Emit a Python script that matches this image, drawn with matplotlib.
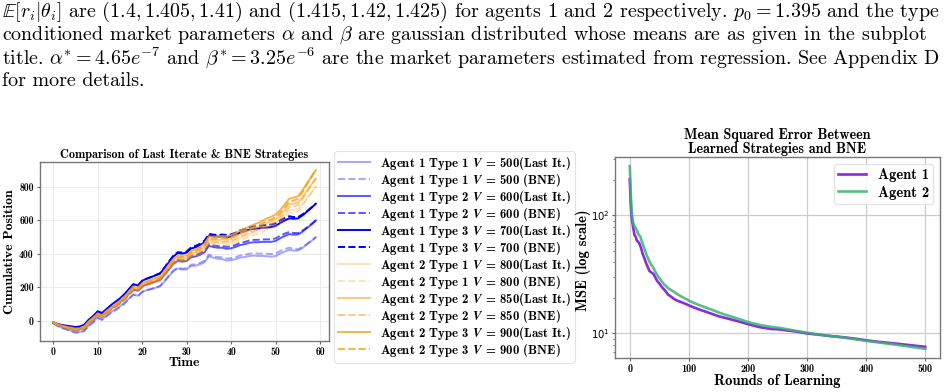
import matplotlib
matplotlib.use("Agg")
import matplotlib.pyplot as plt

plt.rcParams['mathtext.fontset'] = 'cm'
plt.rcParams['axes.unicode_minus'] = False

# ---- data: cumulative position over time (left panel) ----
time = list(range(60))

a1_t1_last = [-12, -28, -40, -48, -58, -66, -65, -56, -26, -5, 22, 10, 32, 53, 69, 87, 108, 134, 160, 150,
              174, 184, 190, 198, 206, 235, 266, 297, 313, 306, 308, 328, 330, 338, 350, 386, 377, 371, 369, 360,
              363, 369, 378, 381, 387, 390, 388, 388, 386, 384, 388, 403, 414, 424, 420, 420, 436, 456, 477, 500]
a1_t1_bne = [-12, -30, -43, -52, -62, -71, -70, -61, -31, -10, 17, 5, 27, 48, 64, 82, 103, 129, 155, 147,
             172, 184, 190, 200, 209, 239, 271, 302, 319, 312, 315, 336, 338, 347, 360, 396, 387, 381, 380, 372,
             375, 381, 391, 394, 401, 404, 402, 402, 401, 399, 403, 418, 428, 437, 430, 428, 442, 460, 479, 500]
a1_t2_last = [-10, -23, -32, -38, -45, -51, -49, -39, -9, 12, 40, 29, 52, 74, 92, 111, 134, 162, 190, 181,
              207, 218, 226, 235, 244, 275, 308, 341, 359, 354, 358, 380, 385, 395, 410, 448, 441, 437, 437, 430,
              434, 442, 453, 458, 466, 470, 470, 472, 472, 472, 478, 494, 507, 518, 515, 516, 533, 554, 576, 600]
a1_t2_bne = [-10, -25, -35, -42, -49, -56, -54, -44, -14, 7, 35, 24, 47, 69, 87, 106, 129, 157, 185, 178,
             205, 218, 226, 237, 247, 279, 313, 346, 365, 360, 365, 388, 393, 404, 420, 458, 451, 447, 448, 442,
             446, 454, 466, 471, 480, 484, 484, 486, 487, 487, 493, 509, 521, 531, 525, 524, 539, 558, 578, 600]
a1_t3_last = [-8, -18, -24, -28, -32, -36, -33, -22, 8, 30, 58, 48, 72, 95, 115, 135, 160, 190, 220, 212,
              240, 252, 262, 272, 282, 315, 350, 385, 405, 402, 408, 432, 440, 452, 470, 510, 505, 503, 505, 500,
              505, 515, 528, 535, 545, 550, 552, 556, 558, 560, 568, 585, 600, 612, 610, 612, 630, 652, 675, 700]
a1_t3_bne = [-8, -20, -27, -32, -36, -41, -38, -27, 3, 25, 53, 43, 67, 90, 110, 130, 155, 185, 215, 209,
             238, 252, 262, 274, 285, 319, 355, 390, 411, 408, 415, 440, 448, 461, 480, 520, 515, 513, 516, 512,
             517, 527, 541, 548, 559, 564, 566, 570, 573, 575, 583, 600, 614, 625, 620, 620, 636, 656, 677, 700]
a2_t1_last = [-9, -23, -33, -40, -48, -54, -53, -42, -12, 10, 34, 24, 48, 69, 88, 108, 130, 158, 187, 179,
              205, 216, 224, 234, 243, 276, 311, 344, 360, 358, 362, 387, 395, 408, 426, 468, 464, 462, 465, 463,
              469, 481, 495, 504, 516, 527, 536, 547, 560, 569, 581, 602, 631, 662, 663, 669, 698, 734, 768, 800]
a2_t1_bne = [-9, -25, -36, -44, -53, -60, -59, -48, -18, 4, 28, 18, 42, 63, 82, 102, 123, 151, 180, 172,
             198, 209, 217, 226, 235, 268, 303, 335, 351, 349, 353, 377, 385, 398, 416, 456, 452, 450, 453, 451,
             456, 468, 482, 490, 502, 512, 521, 532, 544, 553, 565, 585, 613, 644, 646, 654, 686, 726, 764, 800]
a2_t2_last = [-8, -22, -30, -37, -44, -50, -48, -37, -7, 15, 40, 30, 54, 76, 95, 115, 138, 167, 196, 189,
              215, 226, 235, 245, 255, 288, 324, 357, 374, 373, 377, 402, 412, 425, 444, 487, 483, 482, 486, 484,
              491, 503, 518, 527, 540, 551, 560, 572, 586, 596, 608, 632, 663, 696, 699, 707, 739, 778, 815, 850]
a2_t2_bne = [-8, -24, -33, -41, -49, -56, -54, -43, -13, 9, 34, 24, 48, 70, 89, 109, 131, 160, 189, 182,
             208, 219, 228, 237, 247, 280, 316, 348, 365, 364, 368, 392, 402, 415, 434, 475, 471, 470, 474, 472,
             478, 490, 505, 513, 526, 536, 545, 557, 570, 580, 592, 615, 645, 678, 682, 692, 727, 770, 811, 850]
a2_t3_last = [-8, -20, -28, -34, -40, -45, -43, -32, -2, 20, 45, 35, 60, 82, 102, 122, 146, 175, 205, 198,
              225, 236, 246, 256, 266, 300, 336, 370, 388, 387, 392, 418, 428, 442, 462, 505, 502, 502, 506, 505,
              512, 525, 540, 550, 563, 575, 585, 597, 612, 622, 635, 662, 695, 730, 735, 745, 780, 822, 862, 900]
a2_t3_bne = [-8, -22, -31, -38, -45, -51, -49, -38, -8, 14, 39, 29, 54, 76, 96, 116, 139, 168, 198, 191,
             218, 229, 239, 248, 258, 292, 328, 361, 379, 378, 383, 408, 418, 432, 452, 493, 490, 490, 494, 493,
             499, 512, 527, 536, 549, 560, 570, 582, 596, 606, 619, 645, 677, 712, 718, 730, 768, 814, 858, 900]

volumes_a1 = [500, 600, 700]
volumes_a2 = [800, 850, 900]

# ---- data: MSE vs rounds (right panel) ----
rounds = [0, 1, 2, 3, 4, 5, 6, 8, 10, 12, 14, 16, 18, 20, 22, 25, 28, 30, 33, 36, 40, 43, 46, 50, 55, 60,
          65, 70, 75, 80, 90, 100, 110, 120, 130, 140, 150, 160, 170, 180, 190, 200, 220, 240, 250, 260,
          280, 300, 320, 340, 360, 380, 400, 420, 440, 460, 480, 500]
mse_agent1 = [203, 150, 115, 98, 90, 84, 78, 68, 66, 61, 60, 58, 55, 51, 47, 43, 39, 37, 34, 33, 32, 30, 28,
              26.5, 24.5, 23, 21.3, 20.5, 19.6, 19.0, 18.2, 17.3, 16.5, 15.8, 15.2, 14.6, 14.0, 13.6, 13.2,
              12.8, 12.4, 12.0, 11.3, 10.9, 10.85, 10.7, 10.4, 10.0, 9.75, 9.5, 9.3, 9.05, 8.75, 8.5, 8.3,
              8.1, 7.9, 7.7]
mse_agent2 = [262, 190, 140, 115, 100, 92, 86, 80, 79, 75, 70, 68, 66, 61, 57, 52, 47, 44.5, 41, 38.5, 36,
              33.5, 31.5, 29.5, 27.2, 25.5, 24.2, 23.3, 22.5, 21.6, 20.2, 19.0, 18.0, 17.2, 16.5, 15.8, 15.1,
              14.5, 14.0, 13.5, 13.0, 12.5, 11.8, 11.35, 11.2, 11.0, 10.55, 10.15, 9.8, 9.5, 9.25, 8.95,
              8.65, 8.4, 8.15, 7.9, 7.65, 7.4]

fig = plt.figure(figsize=(9.48, 3.92), dpi=100)

# paragraph text above the figure
para = [
    r"$\mathbb{E}[r_i|\theta_i]$ are $(1.4, 1.405, 1.41)$ and $(1.415, 1.42, 1.425)$ for agents 1 and 2 respectively. $p_0 = 1.395$ and the type",
    r"conditioned market parameters $\alpha$ and $\beta$ are gaussian distributed whose means are as given in the subplot",
    r"title. $\alpha^{*} = 4.65e^{-7}$ and $\beta^{*} = 3.25e^{-6}$ are the market parameters estimated from regression. See Appendix D",
    "for more details.",
]
for i, line in enumerate(para):
    fig.text(2 / 948, 1 - (12 + 23 * i) / 392, line, family='cmr10', fontsize=14.4, va='center', ha='left')

# ---- left panel ----
ax1 = fig.add_axes([40 / 948, 51 / 392, 289 / 948, 179 / 392])
blue_alpha = [0.35, 0.65, 1.0]
orange_alpha = [0.3, 0.55, 0.8]
a1_last = [a1_t1_last, a1_t2_last, a1_t3_last]
a1_bne = [a1_t1_bne, a1_t2_bne, a1_t3_bne]
a2_last = [a2_t1_last, a2_t2_last, a2_t3_last]
a2_bne = [a2_t1_bne, a2_t2_bne, a2_t3_bne]
for k in range(3):
    ax1.plot(time, a1_last[k], color='blue', alpha=blue_alpha[k], lw=1.4,
             label=r"Agent 1 Type %d $\boldsymbol{V}$ = %d(Last It.)" % (k + 1, volumes_a1[k]))
    ax1.plot(time, a1_bne[k], color='blue', alpha=blue_alpha[k], lw=1.4, ls='--',
             label=r"Agent 1 Type %d $\boldsymbol{V}$ = %d (BNE)" % (k + 1, volumes_a1[k]))
for k in range(3):
    ax1.plot(time, a2_last[k], color='#f5a01a', alpha=orange_alpha[k], lw=1.4,
             label=r"Agent 2 Type %d $\boldsymbol{V}$ = %d(Last It.)" % (k + 1, volumes_a2[k]))
    ax1.plot(time, a2_bne[k], color='#f5a01a', alpha=orange_alpha[k], lw=1.4, ls='--',
             label=r"Agent 2 Type %d $\boldsymbol{V}$ = %d (BNE)" % (k + 1, volumes_a2[k]))

ax1.set_title("Comparison of Last Iterate & BNE Strategies", family='cmb10', fontsize=8.8, pad=3)
ax1.set_xlabel("Time", family='cmb10', fontsize=10, labelpad=0)
ax1.set_ylabel("Cumulative Position", family='cmb10', fontsize=10, labelpad=2)
ax1.set_xticks([0, 10, 20, 30, 40, 50, 60])
ax1.set_yticks([0, 200, 400, 600, 800])
ax1.grid(color='#ebebeb', lw=0.7)
ax1.tick_params(labelsize=7, length=2.5, pad=2, color='#666666')
for lab in ax1.get_xticklabels() + ax1.get_yticklabels():
    lab.set_family('cmb10')
for s in ax1.spines.values():
    s.set_color('#777777')
    s.set_linewidth(1.0)

handles, labels = ax1.get_legend_handles_labels()
leg = fig.legend(handles, labels, loc='upper left', bbox_to_anchor=(334 / 948, 1 - 151 / 392),
                 prop={'family': 'cmb10', 'size': 9.2}, frameon=True, fancybox=True,
                 handlelength=2.5, labelspacing=0.0, borderpad=0.3, handletextpad=0.8,
                 borderaxespad=0)
leg.get_frame().set_edgecolor('#dddddd')
leg.get_frame().set_linewidth(0.8)
leg.set_zorder(2)

# ---- right panel ----
ax2 = fig.add_axes([615 / 948, 34 / 392, 325 / 948, 201 / 392])
ax2.plot(rounds, mse_agent1, color='#8a2be2', lw=1.9, label='Agent 1')
ax2.plot(rounds, mse_agent2, color='#3cb371', lw=1.9, alpha=0.85, label='Agent 2')
ax2.set_yscale('log')
ax2.set_title("Mean Squared Error Between\nLearned Strategies and BNE", family='cmb10',
              fontsize=10.2, pad=3, linespacing=0.95)
ax2.set_xlabel("Rounds of Learning", family='cmb10', fontsize=10.5, labelpad=0)
ax2.set_xticks([0, 100, 200, 300, 400, 500])
ax2.grid(color='#cccccc', lw=0.9)
ax2.tick_params(labelsize=7.3, length=2.5, pad=1.5, color='#666666')
ax2.tick_params(which='minor', length=1.5, color='#666666')
for lab in ax2.get_xticklabels():
    lab.set_family('cmb10')
for s in ax2.spines.values():
    s.set_color('#777777')
    s.set_linewidth(1.0)
# y label placed beside the log tick labels, drawn above everything else
fig.text(583 / 948, 1 - 260 / 392, "MSE (log scale)", family='cmb10', fontsize=10.5,
         rotation=90, ha='center', va='center', zorder=10)
leg2 = ax2.legend(loc='upper right', prop={'family': 'cmb10', 'size': 10.5}, handlelength=1.9,
                  borderpad=0.3, labelspacing=0.25, handletextpad=0.8, borderaxespad=0.45)
leg2.get_frame().set_edgecolor('#dddddd')

fig.savefig("out.png", dpi=100)
